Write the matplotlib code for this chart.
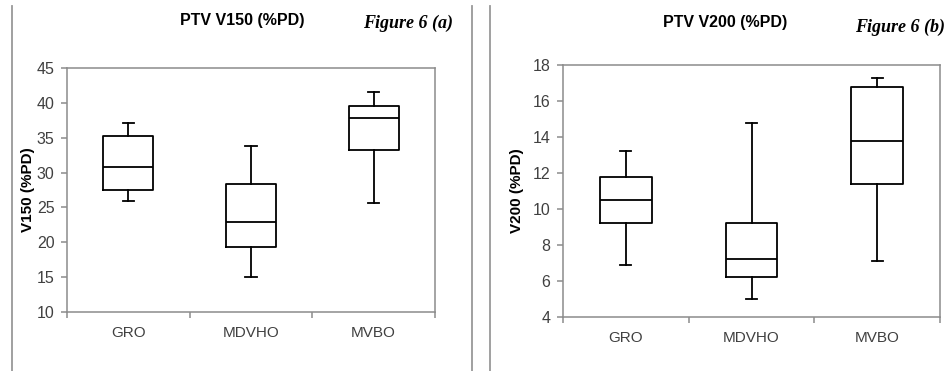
#!/usr/bin/env python3
# -*- coding: utf-8 -*-
# PTV V150 / V200 box plots (Figure 6 a, b)
import matplotlib
matplotlib.use('Agg')
import matplotlib.pyplot as plt
from matplotlib.lines import Line2D

plt.rcParams['font.family'] = ['Liberation Sans', 'DejaVu Sans']

categories = ['GRO', 'MDVHO', 'MVBO']

# V150 (%PD): whisker low, Q1, median, Q3, whisker high
v150_low = [25.9, 15.0, 25.7]
v150_q1 = [27.5, 19.3, 33.3]
v150_med = [30.8, 22.9, 37.8]
v150_q3 = [35.3, 28.3, 39.5]
v150_high = [37.1, 33.8, 41.5]

# V200 (%PD)
v200_low = [6.9, 5.0, 7.1]
v200_q1 = [9.2, 6.2, 11.4]
v200_med = [10.5, 7.2, 13.8]
v200_q3 = [11.8, 9.2, 16.8]
v200_high = [13.2, 14.8, 17.3]

W, H = 946, 371
GRAY = '#8c8c8c'
TXT = '#404040'


def make_stats(low, q1, med, q3, high):
    return [dict(label=c, whislo=a, q1=b, med=m, q3=d, whishi=e, fliers=[])
            for c, a, b, m, d, e in zip(categories, low, q1, med, q3, high)]


def draw_panel(ax, stats, ylim, ystep, ylabel, lpad):
    lp = dict(color='black', linewidth=1.3)
    ax.bxp(stats, positions=[1, 2, 3], widths=0.41, capwidths=0.09,
           boxprops=lp, whiskerprops=lp, capprops=lp,
           medianprops=lp, showfliers=False, manage_ticks=False)
    ax.set_xlim(0.5, 3.5)
    ax.set_ylim(*ylim)
    ax.set_yticks(range(ylim[0], ylim[1] + 1, ystep))
    # tick marks between the categories, labels in the middle
    ax.set_xticks([0.5, 1.5, 2.5, 3.5])
    ax.set_xticklabels([])
    ax.set_xticks([1, 2, 3], minor=True)
    ax.set_xticklabels(categories, minor=True)
    ax.tick_params(axis='x', which='minor', length=0, pad=10,
                   labelsize=11, labelcolor=TXT)
    ax.tick_params(axis='x', which='major', length=4, color=GRAY, width=1.1)
    ax.tick_params(axis='y', length=4, color=GRAY, width=1.1,
                   labelsize=11.5, labelcolor=TXT, pad=5)
    for s in ax.spines.values():
        s.set_color(GRAY)
        s.set_linewidth(1.1)
    ax.set_ylabel(ylabel, fontsize=11, fontweight='bold', labelpad=lpad)


fig = plt.figure(figsize=(W / 100, H / 100), dpi=100)
fig.patch.set_facecolor('white')

ax1 = fig.add_axes([67 / W, 1 - 312 / H, 368 / W, 244 / H])
draw_panel(ax1, make_stats(v150_low, v150_q1, v150_med, v150_q3, v150_high),
           (10, 45), 5, 'V150 (%PD)', 1)

ax2 = fig.add_axes([563 / W, 1 - 317 / H, 377 / W, 252 / H])
draw_panel(ax2, make_stats(v200_low, v200_q1, v200_med, v200_q3, v200_high),
           (4, 18), 2, 'V200 (%PD)', 6)

# titles
fig.text(242 / W, 1 - 21 / H, 'PTV V150 (%PD)', ha='center', va='center',
         fontsize=11.5, fontweight='bold')
fig.text(453 / W, 1 - 23 / H, 'Figure 6 (a)', ha='right', va='center',
         fontsize=13, fontweight='bold', style='italic',
         family='Liberation Serif')
fig.text(725 / W, 1 - 22 / H, 'PTV V200 (%PD)', ha='center', va='center',
         fontsize=11.5, fontweight='bold')
fig.text(945 / W, 1 - 27 / H, 'Figure 6 (b)', ha='right', va='center',
         fontsize=13, fontweight='bold', style='italic',
         family='Liberation Serif')

# panel frame lines
for x in [12, 472, 490]:
    fig.add_artist(Line2D([x / W, x / W], [0, 1 - 6 / H],
                          transform=fig.transFigure, color='#999999',
                          linewidth=1.3))

fig.savefig('out.png', dpi=100)
